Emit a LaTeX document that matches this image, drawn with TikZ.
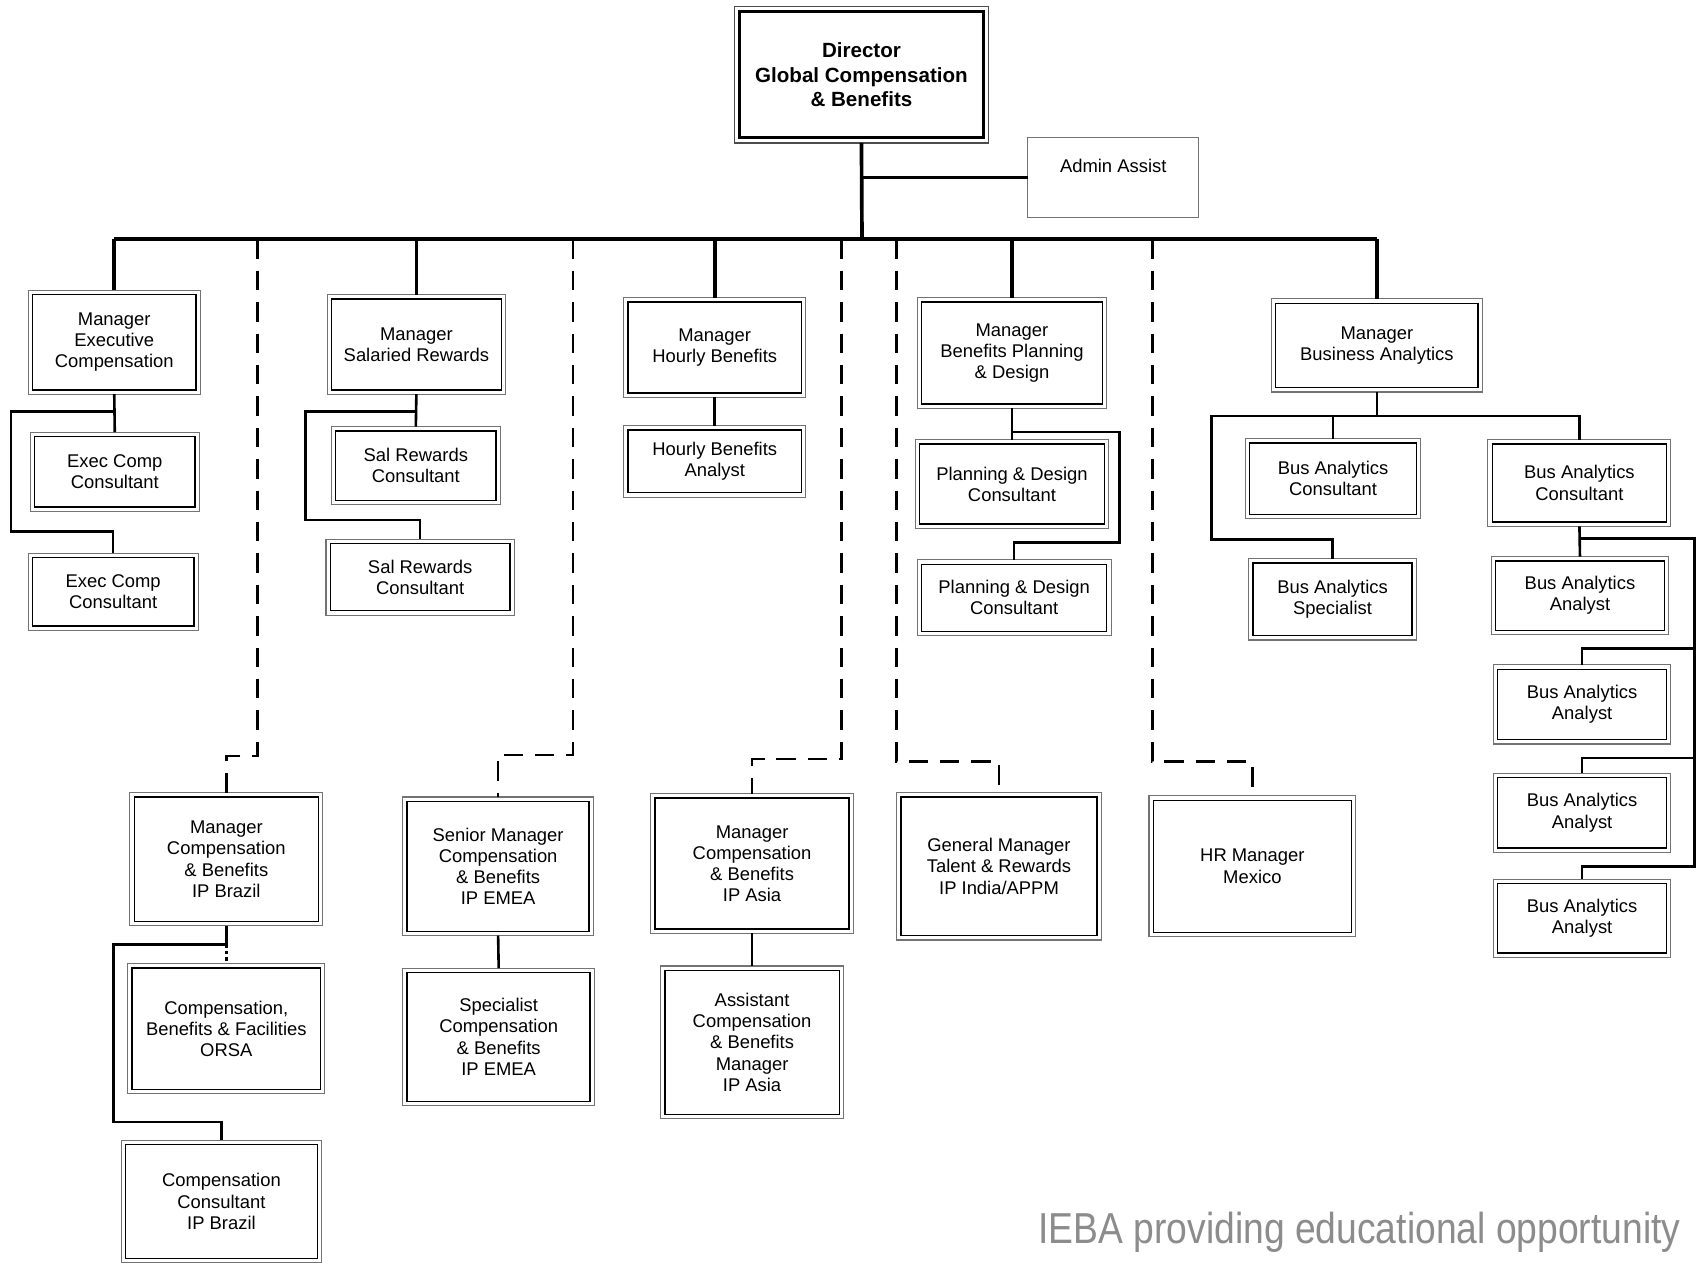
\documentclass[tikz,border=0pt]{standalone}
\usepackage{fontspec}
\usepackage{graphicx}
\setmainfont{Liberation Sans}
\usetikzlibrary{calc}
\tikzset{
 obox/.style={draw=black!55, line width=1pt, fill=white, inner sep=0pt, outer sep=0pt},
 ibox/.style={draw=black, line width=1.3pt, inner sep=0pt, outer sep=0pt, align=center, font=\fontsize{17}{19.6}\selectfont},
 abox/.style={draw=black!55, line width=1.2pt, fill=white, inner sep=0pt, outer sep=0pt},
 thk/.style={line width=3.4pt},
 med/.style={line width=2.4pt},
 dsh/.style={line width=2.4pt, dash pattern=on 18pt off 11pt},
 dotl/.style={line width=2.4pt, dash pattern=on 3pt off 3pt},
 wmark/.style={text=black!45, inner sep=0pt},
}
\newcommand\bx[6]{%
 \node[obox, minimum width={(#4)-(#2)}, minimum height={(#5)-(#3)}] (#1) at ({((#2)+(#4))/2},{((#3)+(#5))/2}) {};
 \node[ibox, minimum width={(#4)-(#2)-8}, minimum height={(#5)-(#3)-8}] (#1i) at (#1) {#6};}
\begin{document}
\begin{tikzpicture}[x=1pt,y=-1pt]
\useasboundingbox (0,0) rectangle (1568,1168);
\fill[white] (0,0) rectangle (1568,1168);

% coordinates on the bus
\coordinate (bus) at (796,221);
\coordinate (d1) at (238,221);
\coordinate (d2) at (529,221);
\coordinate (d3) at (777,221);
\coordinate (d4) at (828,221);
\coordinate (d5) at (1064,221);

% director and admin
\node[obox, line width=1.3pt, draw=black!70, minimum width=235, minimum height=126] (dir) at (795.5,69) {};
\node[ibox, line width=2.8pt, minimum width=225, minimum height=116, font=\bfseries\fontsize{19}{22.5}\selectfont] (diri) at (dir) {Director\\Global Compensation\\\& Benefits};
\node[abox, minimum width=158, minimum height=74] (admin) at (1028,164) {};
\node[font=\fontsize{17}{19.6}\selectfont, inner sep=0pt] (admint) at (1028,153) {Admin Assist};

% first row managers
\bx{mExec}{26}{268}{185}{364}{Manager\\Executive\\Compensation}
\bx{mSal}{302}{272}{467}{364}{Manager\\Salaried Rewards}
\bx{mHour}{576}{275}{744}{367}{Manager\\Hourly Benefits}
\bx{mBen}{847}{275}{1022}{377}{Manager\\Benefits Planning\\\& Design}
\bx{mBus}{1174}{276}{1369}{362}{Manager\\Business Analytics}

% sub boxes
\bx{ec1}{28}{399}{184}{472}{Exec Comp\\Consultant}
\bx{ec2}{26}{511}{183}{582}{Exec Comp\\Consultant}
\bx{sc1}{306}{394}{462}{466}{Sal Rewards\\Consultant}
\bx{sc2}{301}{498}{475}{568}{Sal Rewards\\Consultant}
\bx{hba}{576}{393}{744}{459}{Hourly Benefits\\Analyst}
\bx{pd1}{845}{406}{1024}{488}{Planning \& Design\\Consultant}
\bx{pd2}{847}{517}{1026}{587}{Planning \& Design\\Consultant}
\bx{bac1}{1150}{405}{1312}{479}{Bus Analytics\\Consultant}
\bx{bac2}{1374}{406}{1543}{486}{Bus Analytics\\Consultant}
\bx{spec}{1153}{516}{1308}{591}{Bus Analytics\\Specialist}
\bx{an1}{1377}{514}{1541}{586}{Bus Analytics\\Analyst}
\bx{an2}{1379}{614}{1543}{687}{Bus Analytics\\Analyst}
\bx{an3}{1379}{714}{1543}{787}{Bus Analytics\\Analyst}
\bx{an4}{1379}{812}{1543}{884}{Bus Analytics\\Analyst}

% second row (dotted-line reports)
\bx{brazil}{120}{732}{298}{855}{Manager\\Compensation\\\& Benefits\\IP Brazil}
\bx{emea}{372}{736}{548}{864}{Senior Manager\\Compensation\\\& Benefits\\IP EMEA}
\bx{asia}{601}{733}{788}{862}{Manager\\Compensation\\\& Benefits\\IP Asia}
\bx{gm}{828}{732}{1017}{868}{General Manager\\Talent \& Rewards\\IP India/APPM}
\bx{hr}{1061}{735}{1252}{865}{HR Manager\\Mexico}

\bx{orsa}{118}{890}{300}{1010}{Compensation,\\Benefits \& Facilities\\ORSA}
\bx{ccb}{112}{1053}{297}{1166}{Compensation\\Consultant\\IP Brazil}
\bx{spemea}{372}{894}{549}{1021}{Specialist\\Compensation\\\& Benefits\\IP EMEA}
\bx{asst}{610}{892}{779}{1033}{Assistant\\Compensation\\\& Benefits\\Manager\\IP Asia}

% top connectors
\draw[thk] (dir.south) -- (bus);
\draw[med] (dir.south |- admin.west) -- (admin.west);
\draw[thk] (mExec.north |- bus) -- (mBus.north |- bus);
\draw[thk] (mExec.north |- bus) -- (mExec.north);
\draw[thk] (mSal.north |- bus) -- (mSal.north);
\draw[thk] (mHour.north |- bus) -- (mHour.north);
\draw[thk] (mBen.north |- bus) -- (mBen.north);
\draw[thk] (mBus.north |- bus) -- (mBus.north);

% dashed connectors
\draw[dsh] (d1) -- (238,698) -| (brazil.north);
\draw[dsh] (d2) -- (529,697) -| (emea.north);
\draw[dsh] (d3) -- (777,701) -| (asia.north);
\draw[dsh] (d4) -- (828,703) -| (gm.north);
\draw[dsh] (d5) -- (1064,703) -| (hr.north);

% exec comp
\draw[med] (mExec.south) -- (ec1.north);
\coordinate (e0) at (105.5,380);
\draw[med] (e0) -| (10,491) -| (ec2.north);
% salaried
\draw[med] (mSal.south) -- (sc1.north);
\coordinate (s0) at (384.5,380);
\draw[med] (s0) -| (282,480) -| (sc2.north);
% hourly
\draw[med] (mHour.south) -- (hba.north);
% benefits planning
\draw[med] (mBen.south) -- (pd1.north);
\coordinate (p0) at (934.5,399);
\draw[med] (p0) -| (1034,501) -| (pd2.north);
% business analytics
\draw[med] (mBus.south) -- ++(0,22) coordinate (b0);
\draw[med] (bac2.north) |- (b0);
\draw[med] (bac1.north) -- (bac1.north |- b0);
\draw[med] (b0) -| (1119,498) -| (spec.north);
\draw[med] (bac2.south) -- (an1.north);
\coordinate (r0) at (1458.5,497);
\draw[med] (r0) -| (1565,800) -| (an4.north);
\coordinate (r1) at (1565,599);
\coordinate (r2) at (1565,700);
\draw[med] (r1) -| (an2.north);
\draw[med] (r2) -| (an3.north);

% brazil
\draw[med] (brazil.south) -- ++(0,17) coordinate (z0);
\draw[dotl] (z0) -- (orsa.north);
\draw[med] (z0) -| (105,1036) -| (ccb.north);
% emea, asia
\draw[med] (emea.south) -- (spemea.north);
\draw[med] (asia.south) -- (asst.north);

% watermark
\node[wmark, anchor=base east] (wm) at (1552,1148) {\scalebox{0.86}[1]{\fontsize{40}{44}\selectfont IEBA providing educational opportunity}};
\end{tikzpicture}
\end{document}
